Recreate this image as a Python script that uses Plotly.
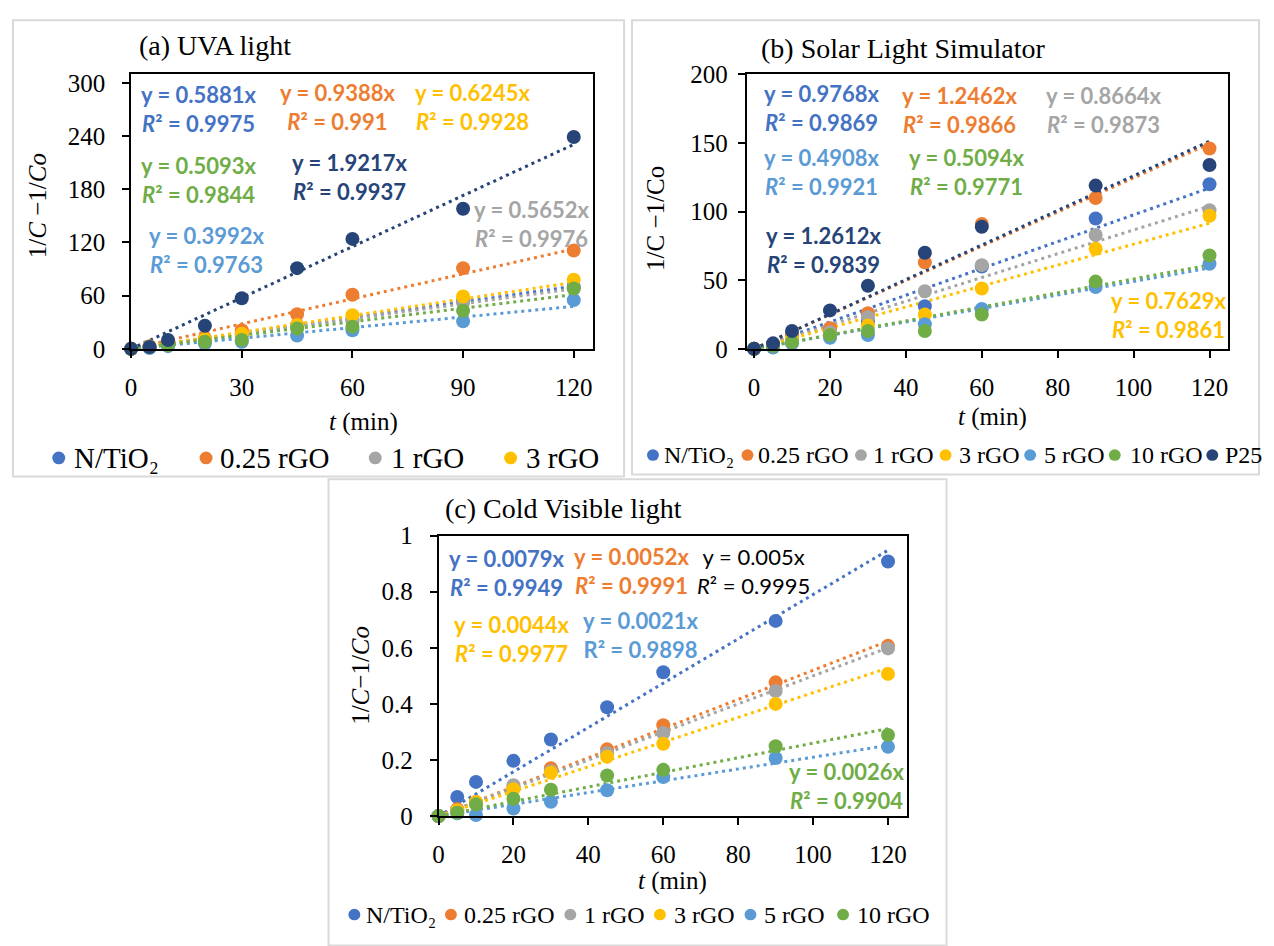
import plotly.graph_objects as go

# ---------------- data ----------------
t = [0, 5, 10, 20, 30, 45, 60, 90, 120]
series_names = ["N/TiO₂", "0.25 rGO", "1 rGO", "3 rGO", "5 rGO", "10 rGO", "P25"]
colors = ["#4472C4", "#ED7D31", "#A5A5A5", "#FFC000", "#5B9BD5", "#70AD47", "#264478"]

# (a) UVA light
uva_N = [0, 2, 5, 10, 16, 27, 33, 54, 70]
uva_025 = [0, 3, 6, 12, 21, 39, 61, 91, 111]
uva_1 = [0, 2, 4, 9, 14, 25, 31, 52, 68]
uva_3 = [0, 2, 5, 11, 17, 27, 38, 59, 78]
uva_5 = [0, 1, 3, 6, 8, 15, 21, 31, 55]
uva_10 = [0, 2, 4, 8, 10, 23, 25, 43, 68]
uva_P25 = [0, 2, 10, 26, 57, 91, 124, 158, 239]
uva_slope = [0.5881, 0.9388, 0.5652, 0.6245, 0.3992, 0.5093, 1.9217]
uva_r2 = [0.9975, 0.991, 0.9976, 0.9928, 0.9763, 0.9844, 0.9937]

# (b) Solar light simulator
sol_N = [0, 3, 8, 12, 20, 31, 60, 95, 120]
sol_025 = [0, 3, 10, 15, 26, 63, 91, 110, 146]
sol_1 = [0, 2, 7, 12, 23, 42, 61, 83, 101]
sol_3 = [0, 2, 7, 10, 17, 25, 44, 73, 97]
sol_5 = [0, 1, 4, 8, 10, 18, 29, 45, 62]
sol_10 = [0, 2, 5, 10, 13, 13, 25, 49, 68]
sol_P25 = [0, 4, 13, 28, 46, 70, 89, 119, 134]
sol_slope = [0.9768, 1.2462, 0.8664, 0.7629, 0.4908, 0.5094, 1.2612]
sol_r2 = [0.9869, 0.9866, 0.9873, 0.9861, 0.9921, 0.9771, 0.9839]

# (c) Cold visible light
cv_N = [0, 0.068, 0.122, 0.197, 0.273, 0.388, 0.513, 0.696, 0.908]
cv_025 = [0, 0.025, 0.05, 0.105, 0.171, 0.238, 0.324, 0.477, 0.607]
cv_1 = [0, 0.02, 0.045, 0.11, 0.16, 0.225, 0.296, 0.446, 0.598]
cv_3 = [0, 0.02, 0.05, 0.096, 0.155, 0.212, 0.258, 0.40, 0.507]
cv_5 = [0, 0.01, 0.004, 0.027, 0.051, 0.092, 0.139, 0.207, 0.247]
cv_10 = [0, 0.012, 0.042, 0.062, 0.094, 0.145, 0.165, 0.249, 0.289]
cv_slope = [0.0079, 0.0052, 0.005, 0.0044, 0.0021, 0.0026]
cv_r2 = [0.9949, 0.9991, 0.9995, 0.9977, 0.9898, 0.9904]

uva = [uva_N, uva_025, uva_1, uva_3, uva_5, uva_10, uva_P25]
sol = [sol_N, sol_025, sol_1, sol_3, sol_5, sol_10, sol_P25]
cv = [cv_N, cv_025, cv_1, cv_3, cv_5, cv_10]

# ---------------- layout helpers ----------------
W, H = 1274, 946
def px(x):
    return x / W
def py(y):
    return 1 - y / H

SERIF = "Liberation Serif"
SANS = "Lato"

fig = go.Figure()

panels = [
    dict(ax="", data=uva, slopes=uva_slope),
    dict(ax="2", data=sol, slopes=sol_slope),
    dict(ax="3", data=cv, slopes=cv_slope),
]

for p in panels:
    xa = "x" + p["ax"]
    ya = "y" + p["ax"]
    tmax = max(t)
    for i, ys in enumerate(p["data"]):
        fig.add_trace(go.Scatter(
            x=[0, tmax], y=[0, p["slopes"][i] * tmax], mode="lines",
            line=dict(color=colors[i], width=3, dash="3px,4px"),
            xaxis=xa, yaxis=ya, showlegend=False, hoverinfo="skip"))
    for i, ys in enumerate(p["data"]):
        fig.add_trace(go.Scatter(
            x=t, y=ys, mode="markers", name=series_names[i],
            marker=dict(color=colors[i], size=14, line=dict(width=0)),
            xaxis=xa, yaxis=ya, showlegend=False, cliponaxis=False))

axis_common = dict(showline=True, linecolor="black", linewidth=1.5, mirror=True,
                   ticks="outside", ticklen=7, tickwidth=1.5, tickcolor="black",
                   showgrid=False, zeroline=False,
                   tickfont=dict(family=SERIF, size=25, color="black"))

fig.update_layout(
    width=W, height=H, margin=dict(l=0, r=0, t=0, b=0),
    paper_bgcolor="white", plot_bgcolor="white", showlegend=False,
    xaxis=dict(domain=[px(125.7), px(589.7)], range=[0, 125.2], tickvals=[0, 30, 60, 90, 120],
               anchor="y", ticklabelstandoff=8, **axis_common),
    yaxis=dict(domain=[py(345.7), py(63.3)], range=[0, 309.5], tickvals=[0, 60, 120, 180, 240, 300],
               anchor="x", ticklabelstandoff=12, **axis_common),
    xaxis2=dict(domain=[px(744.1), px(1227.5)], range=[-1.97, 124.8], tickvals=[0, 20, 40, 60, 80, 100, 120],
                anchor="y2", ticklabelstandoff=8, **axis_common),
    yaxis2=dict(domain=[py(345.7), py(62.7)], range=[0, 200.4], tickvals=[0, 50, 100, 150, 200],
                anchor="x2", ticklabelstandoff=5, **axis_common),
    xaxis3=dict(domain=[px(434.6), px(905)], range=[0, 125], tickvals=[0, 20, 40, 60, 80, 100, 120],
                anchor="y3", ticklabelstandoff=8, **axis_common),
    yaxis3=dict(domain=[py(826.7), py(538)], range=[0, 1.0], tickvals=[0, 0.2, 0.4, 0.6, 0.8, 1],
                ticktext=["0", "0.2", "0.4", "0.6", "0.8", "1"],
                anchor="x3", ticklabelstandoff=12, **axis_common),
)

annotations = []
shapes = []

# panel frames
for (x0, y0, x1, y1) in [(7, 7.5, 621, 477), (629, 7.5, 1259, 475), (324, 480, 945, 960)]:
    shapes.append(dict(type="rect", xref="paper", yref="paper",
                       x0=px(x0), x1=px(x1), y0=py(y1), y1=py(y0),
                       line=dict(color="#D9D9D9", width=2), layer="below"))

def text(x, y, s, size, family=SERIF, xanchor="left", yanchor="middle", color="black", angle=0, align="left"):
    annotations.append(dict(x=px(x), y=py(y), xref="paper", yref="paper", text=s, showarrow=False,
                            xanchor=xanchor, yanchor=yanchor, align=align, textangle=angle,
                            font=dict(family=family, size=size, color=color)))

# titles
text(132, 33, "(a) UVA light", 28)
text(757, 37, "(b) Solar Light Simulator", 28)
text(439, 510, "(c) Cold Visible light", 28)

# axis titles
text(31, 198, "1/<i>C</i> −1/<i>Co</i>", 25, xanchor="center", angle=-90)
text(653, 211, "1/C −1/Co", 25, xanchor="center", angle=-90)
text(356, 682, "1/<i>C</i>−1/<i>Co</i>", 25, xanchor="center", angle=-90)
text(359, 421, "<i>t</i> (min)", 25, xanchor="center")
text(991, 416, "<i>t</i> (min)", 25, xanchor="center")
text(670, 893, "<i>t</i> (min)", 25, xanchor="center")

# trendline equation labels: (series index, left px, first-line center px)
def eq_label(slopes, r2s, i, left, yc, color=None, bold=True, italic_r=True):
    r = "<i>R</i>" if italic_r else "R"
    s = f"y = {slopes[i]}x<br>{r}² = {r2s[i]}"
    if bold:
        s = f"<b>{s}</b>"
    annotations.append(dict(x=px(left), y=py(yc - 15), xref="paper", yref="paper", text=s,
                            showarrow=False, xanchor="left", yanchor="top", align="center",
                            font=dict(family=SANS, size=22, color=color or colors[i])))

for i, l, yc in [(0, 134, 83), (1, 273, 81), (3, 409, 81), (5, 134, 156), (6, 285, 153), (2, 468, 201), (4, 142, 228)]:
    eq_label(uva_slope, uva_r2, i, l, yc)
for i, l, yc in [(0, 760, 82), (1, 898, 84), (2, 1043, 84), (4, 760, 148), (5, 905, 148), (6, 762, 228), (3, 1108, 295)]:
    eq_label(sol_slope, sol_r2, i, l, yc)
for i, l, yc in [(0, 443, 561), (1, 569, 559), (3, 448, 628), (5, 785, 780)]:
    eq_label(cv_slope, cv_r2, i, l, yc)
eq_label(cv_slope, cv_r2, 2, 692, 559, color="black", bold=False)
eq_label(cv_slope, cv_r2, 4, 578, 624, italic_r=False)

# legends (marker circle + label)
def legend_row(entries, y, size, r):
    for idx, mx, tx in entries:
        shapes.append(dict(type="circle", xref="paper", yref="paper",
                           x0=px(mx - r), x1=px(mx + r), y0=py(y + r), y1=py(y - r),
                           fillcolor=colors[idx], line=dict(width=0)))
        text(tx, y, series_names[idx], size)

legend_row([(0, 53, 66), (1, 201, 213), (2, 371, 385), (3, 507, 520)], 458, 29, 6.5)
legend_row([(0, 650, 659), (1, 745, 754), (2, 859, 869), (3, 944, 955), (4, 1029, 1041),
            (5, 1114, 1127), (6, 1212, 1223)], 455, 24, 6)
legend_row([(0, 350, 360), (1, 447, 458), (2, 567, 579), (3, 657, 669), (4, 748, 760),
            (5, 841, 853)], 928, 24, 6)

fig.update_layout(annotations=annotations, shapes=shapes)

fig.write_html("out.html", config={"displayModeBar": False},
               post_script="document.body.style.margin='0px';document.body.style.overflow='hidden';")
